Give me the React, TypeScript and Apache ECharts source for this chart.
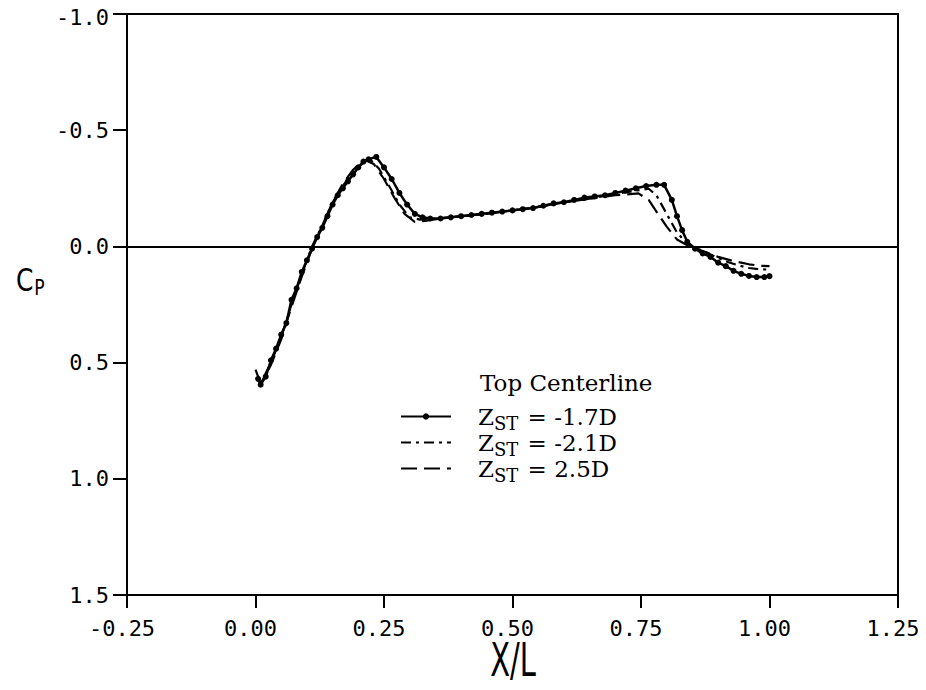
import React, { useEffect, useRef } from "react";
import * as echarts from "echarts";

// Tick values
const xTicks = [-0.25, 0, 0.25, 0.5, 0.75, 1.0, 1.25];
const yTicks = [-1.0, -0.5, 0.0, 0.5, 1.0, 1.5];

// Legend labels
const zLabels = ["-1.7D", "-2.1D", "2.5D"];
const legendTitle = "Top Centerline";

// Series 1: Z_ST = -1.7D (solid with points)
const xA = [0.005, 0.01, 0.02, 0.03, 0.04, 0.05, 0.06, 0.07, 0.08, 0.09, 0.10, 0.11, 0.12, 0.13, 0.14, 0.15, 0.16, 0.17, 0.18, 0.19, 0.20, 0.21, 0.22, 0.235, 0.25, 0.265, 0.28, 0.295, 0.31, 0.325, 0.34, 0.36, 0.38, 0.40, 0.42, 0.44, 0.46, 0.48, 0.50, 0.52, 0.54, 0.56, 0.58, 0.60, 0.62, 0.64, 0.66, 0.68, 0.70, 0.72, 0.74, 0.76, 0.78, 0.795, 0.81, 0.82, 0.83, 0.84, 0.855, 0.87, 0.885, 0.90, 0.915, 0.93, 0.945, 0.96, 0.975, 0.99, 1.0];
const cpA = [0.57, 0.595, 0.56, 0.49, 0.44, 0.38, 0.33, 0.23, 0.18, 0.11, 0.06, 0.01, -0.04, -0.08, -0.13, -0.18, -0.22, -0.25, -0.28, -0.31, -0.34, -0.365, -0.375, -0.385, -0.34, -0.29, -0.23, -0.18, -0.14, -0.125, -0.12, -0.12, -0.125, -0.13, -0.135, -0.14, -0.145, -0.15, -0.155, -0.16, -0.165, -0.175, -0.185, -0.19, -0.2, -0.21, -0.215, -0.22, -0.23, -0.24, -0.25, -0.26, -0.265, -0.265, -0.2, -0.13, -0.07, -0.02, 0.01, 0.03, 0.045, 0.07, 0.085, 0.105, 0.118, 0.127, 0.132, 0.132, 0.128];

// Series 2: Z_ST = -2.1D (dash-dot)
const xB = [0.0, 0.01, 0.03, 0.05, 0.07, 0.09, 0.11, 0.13, 0.15, 0.17, 0.19, 0.21, 0.225, 0.24, 0.26, 0.28, 0.30, 0.32, 0.35, 0.40, 0.45, 0.50, 0.55, 0.60, 0.65, 0.70, 0.74, 0.765, 0.78, 0.80, 0.82, 0.84, 0.86, 0.88, 0.90, 0.92, 0.94, 0.96, 0.98, 1.0];
const cpB = [0.53, 0.59, 0.50, 0.39, 0.25, 0.12, 0.0, -0.09, -0.19, -0.26, -0.32, -0.36, -0.37, -0.335, -0.26, -0.18, -0.125, -0.115, -0.12, -0.13, -0.14, -0.155, -0.17, -0.19, -0.205, -0.225, -0.24, -0.248, -0.22, -0.14, -0.06, -0.01, 0.01, 0.03, 0.05, 0.068, 0.082, 0.093, 0.098, 0.1];

// Series 3: Z_ST = 2.5D (long dash)
const xC = [0.005, 0.01, 0.03, 0.05, 0.07, 0.09, 0.11, 0.13, 0.15, 0.17, 0.19, 0.205, 0.215, 0.23, 0.25, 0.27, 0.29, 0.31, 0.33, 0.36, 0.40, 0.45, 0.50, 0.55, 0.60, 0.65, 0.70, 0.745, 0.765, 0.78, 0.80, 0.82, 0.84, 0.86, 0.88, 0.90, 0.93, 0.96, 0.98, 1.0];
const cpC = [0.56, 0.59, 0.51, 0.40, 0.26, 0.13, 0.01, -0.09, -0.19, -0.27, -0.33, -0.36, -0.37, -0.355, -0.29, -0.21, -0.14, -0.105, -0.11, -0.12, -0.13, -0.14, -0.155, -0.17, -0.19, -0.205, -0.22, -0.228, -0.2, -0.15, -0.085, -0.03, -0.005, 0.012, 0.028, 0.045, 0.063, 0.077, 0.083, 0.085];

const zip = (xs: number[], ys: number[]) => xs.map((x, i) => [x, ys[i]]);

const MONO = "'DejaVu Sans Mono', monospace";
const SERIF = "'DejaVu Serif', serif";

export default function App() {
  const ref = useRef<HTMLDivElement>(null);
  useEffect(() => {
    if (!ref.current) return;
    const chart = echarts.init(ref.current, undefined, { renderer: "svg" });
    const names = zLabels.map((z) => "ZST = " + z);
    const legendRich = {
      z: { fontFamily: SERIF, fontSize: 23, lineHeight: 23, verticalAlign: "top", color: "#000" },
      s: { fontFamily: SERIF, fontSize: 18, lineHeight: 18, verticalAlign: "top", padding: [9, 2, 0, 0], color: "#000" },
      t: { fontFamily: SERIF, fontSize: 23, lineHeight: 23, verticalAlign: "top", color: "#000" },
    };
    const yLabelStyle = { fontFamily: MONO, fontSize: 22, lineHeight: 22, color: "#000" };
    chart.setOption({
      animation: false,
      backgroundColor: "#fff",
      grid: {
        left: 127,
        right: 28,
        top: 14,
        bottom: 95,
        show: true,
        borderColor: "#000",
        borderWidth: 2,
        containLabel: false,
        outerBoundsMode: "none",
      },
      xAxis: {
        type: "value",
        min: xTicks[0],
        max: xTicks[xTicks.length - 1],
        interval: 0.25,
        position: "bottom",
        axisLine: { onZero: false, lineStyle: { color: "#000", width: 2 } },
        axisTick: { show: true, inside: false, length: 13, lineStyle: { color: "#000", width: 2 } },
        axisLabel: {
          color: "#000",
          fontFamily: MONO,
          fontSize: 22,
          margin: 22,
          padding: [0, 10, 0, 0],
          formatter: (v: number) => v.toFixed(2),
        },
        splitLine: { show: false },
      },
      yAxis: {
        type: "value",
        inverse: true,
        min: yTicks[0],
        max: yTicks[yTicks.length - 1],
        interval: 0.5,
        axisLine: { onZero: false, lineStyle: { color: "#000", width: 2 } },
        axisTick: { show: true, inside: false, length: 14, lineStyle: { color: "#000", width: 2 } },
        axisLabel: {
          color: "#000",
          fontFamily: MONO,
          fontSize: 22,
          margin: 18,
          formatter: (v: number) =>
            v === yTicks[0] ? "{first|" + v.toFixed(1) + "}" : "{n|" + v.toFixed(1) + "}",
          rich: {
            n: yLabelStyle,
            first: { ...yLabelStyle, padding: [6, 0, 0, 0] },
          },
        },
        splitLine: { show: false },
      },
      legend: {
        orient: "vertical",
        left: 395,
        top: 400,
        itemWidth: 50,
        itemHeight: 8,
        itemGap: -1,
        selectedMode: false,
        data: [
          { name: names[0] },
          { name: names[1], itemStyle: { opacity: 0 } },
          { name: names[2], itemStyle: { opacity: 0 } },
        ],
        formatter: (name: string) => {
          const rest = name.replace("ZST", "");
          return "{z|Z}{s|ST}{t|" + rest + "}";
        },
        textStyle: { rich: legendRich, padding: [0, 0, 0, 22] },
      },
      graphic: [
        {
          type: "text",
          x: 480,
          y: 371,
          style: { text: legendTitle, font: "23px " + SERIF, fill: "#000" },
        },
        {
          type: "text",
          x: 513,
          y: 660,
          scaleX: 0.85,
          scaleY: 1.35,
          style: {
            text: "X/L",
            font: "34px 'DejaVu Sans', sans-serif",
            fill: "#000",
            textAlign: "center",
            textVerticalAlign: "middle",
            align: "center",
            verticalAlign: "middle",
          },
        },
        {
          type: "text",
          x: 16,
          y: 264,
          scaleX: 0.78,
          style: {
            text: "{c|C}{p|P}",
            fill: "#000",
            rich: {
              c: { fontFamily: "'DejaVu Sans', sans-serif", fontSize: 32, lineHeight: 32, verticalAlign: "top", fill: "#000", color: "#000" },
              p: { fontFamily: "'DejaVu Sans', sans-serif", fontSize: 22, lineHeight: 22, verticalAlign: "top", padding: [13, 0, 0, 1], fill: "#000", color: "#000" },
            },
          },
        },
      ],
      series: [
        {
          name: names[2],
          type: "line",
          data: zip(xC, cpC),
          showSymbol: false,
          symbol: "none",
          lineStyle: { color: "#000", width: 2.2, type: [16, 7] },
          itemStyle: { color: "#000" },
          z: 2,
        },
        {
          name: names[1],
          type: "line",
          data: zip(xB, cpB),
          showSymbol: false,
          symbol: "none",
          lineStyle: { color: "#000", width: 2.2, type: [10, 5, 3, 5] },
          itemStyle: { color: "#000" },
          z: 3,
        },
        {
          name: names[0],
          type: "line",
          data: zip(xA, cpA),
          symbol: "circle",
          symbolSize: 6,
          showSymbol: true,
          lineStyle: { color: "#000", width: 2.5 },
          itemStyle: { color: "#000" },
          z: 4,
          markLine: {
            silent: true,
            symbol: ["none", "none"],
            label: { show: false },
            lineStyle: { color: "#000", width: 2, type: "solid" },
            data: [{ yAxis: 0 }],
          },
        },
      ],
    });
    return () => chart.dispose();
  }, []);
  return <div ref={ref} style={{ width: 926, height: 690, margin: -8 }} />;
}
